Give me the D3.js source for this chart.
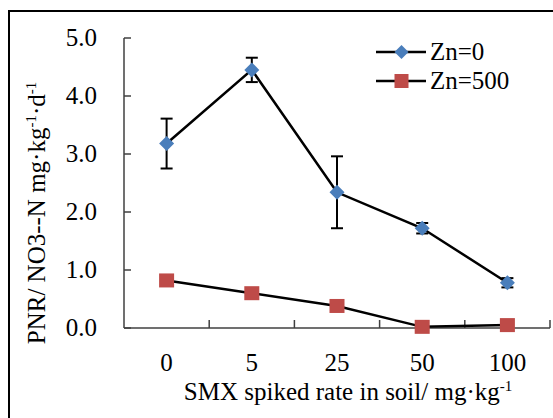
<!DOCTYPE html>
<html><head><meta charset="utf-8">
<script src="https://cdn.jsdelivr.net/npm/d3@7"></script>
<style>body{margin:0;background:#fff}svg{display:block}</style>
</head><body>
<script>
const categories = ["0","5","25","50","100"];
const zn0 = [3.18, 4.45, 2.34, 1.72, 0.78];
const zn0Err = [0.43, 0.21, 0.62, 0.09, 0.08];
const zn500 = [0.82, 0.60, 0.38, 0.02, 0.05];
const yTicks = [0,1,2,3,4,5];
const seriesNames = ["Zn=0","Zn=500"];

const W=553,H=418;
const FF="Liberation Serif";
const svg=d3.select("body").append("svg").attr("width",W).attr("height",H);
svg.append("rect").attr("x",9).attr("y",11).attr("width",W).attr("height",H).attr("fill","none").attr("stroke","#000").attr("stroke-width",2);

const x=d3.scaleBand().domain(categories).range([124,550]).padding(0);
const y=d3.scaleLinear().domain([0,5]).range([328,38]);
const cx=c=>x(c)+x.bandwidth()/2;
const axisCol="#404040";
const FS=25;
const txt=()=>svg.append("text").attr("font-family",FF).attr("fill","#000");

// y axis
svg.append("line").attr("x1",124).attr("x2",124).attr("y1",y(5)).attr("y2",y(0)).attr("stroke",axisCol).attr("stroke-width",1.5);
yTicks.forEach(t=>{
  svg.append("line").attr("x1",124).attr("x2",131).attr("y1",y(t)).attr("y2",y(t)).attr("stroke",axisCol).attr("stroke-width",1.5);
  txt().attr("x",97).attr("y",y(t)+8).attr("text-anchor","end").attr("font-size",FS).text(d3.format(".1f")(t));
});
// x axis
svg.append("line").attr("x1",124).attr("x2",550).attr("y1",y(0)).attr("y2",y(0)).attr("stroke",axisCol).attr("stroke-width",1.5);
categories.forEach(c=>{
  const xe=x(c)+x.bandwidth();
  svg.append("line").attr("x1",xe).attr("x2",xe).attr("y1",y(0)).attr("y2",y(0)-8).attr("stroke",axisCol).attr("stroke-width",1.5);
  txt().attr("x",cx(c)).attr("y",371).attr("text-anchor","middle").attr("font-size",FS).text(c);
});

// axis titles
const xt=txt().attr("x",348).attr("y",400).attr("text-anchor","middle").attr("font-size",FS);
xt.append("tspan").text("SMX spiked rate in soil/ mg·kg");
xt.append("tspan").attr("dy",-9).attr("font-size",15).text("-1");

const yt=txt().attr("transform","translate(45,213) rotate(-90)").attr("text-anchor","middle").attr("font-size",FS);
yt.append("tspan").text("PNR/ NO3--N mg·kg");
yt.append("tspan").attr("dy",-9).attr("font-size",15).text("-1");
yt.append("tspan").attr("dy",9).text("·d");
yt.append("tspan").attr("dy",-9).attr("font-size",15).text("-1");

// lines
const line=d3.line().x((d,i)=>cx(categories[i])).y(d=>y(d));
svg.append("path").attr("d",line(zn500)).attr("fill","none").attr("stroke","#000").attr("stroke-width",2.5);
svg.append("path").attr("d",line(zn0)).attr("fill","none").attr("stroke","#000").attr("stroke-width",2.5);

// error bars
zn0.forEach((v,i)=>{
  const X=cx(categories[i]), t=y(v+zn0Err[i]), b=y(v-zn0Err[i]);
  svg.append("line").attr("x1",X).attr("x2",X).attr("y1",t).attr("y2",b).attr("stroke","#000").attr("stroke-width",2);
  [t,b].forEach(yy=>svg.append("line").attr("x1",X-6).attr("x2",X+6).attr("y1",yy).attr("y2",yy).attr("stroke","#000").attr("stroke-width",2));
});

const diamond=(X,Y,s)=>`M${X},${Y-s}L${X+s},${Y}L${X},${Y+s}L${X-s},${Y}Z`;
zn0.forEach((v,i)=>svg.append("path").attr("d",diamond(cx(categories[i]),y(v),7.5)).attr("fill","#4A7EBB"));
zn500.forEach((v,i)=>svg.append("rect").attr("x",cx(categories[i])-7.5).attr("y",y(v)-7).attr("width",15).attr("height",14).attr("fill","#BE4B48"));

// legend
const ly=[52,81];
seriesNames.forEach((n,i)=>{
  svg.append("line").attr("x1",376).attr("x2",426).attr("y1",ly[i]).attr("y2",ly[i]).attr("stroke","#000").attr("stroke-width",2.5);
  if(i===0) svg.append("path").attr("d",diamond(401.5,ly[i],7)).attr("fill","#4A7EBB");
  else svg.append("rect").attr("x",394.5).attr("y",ly[i]-7).attr("width",14).attr("height",14).attr("fill","#BE4B48");
  txt().attr("x",430).attr("y",ly[i]+8).attr("font-size",FS).text(n);
});
</script>
</body></html>
